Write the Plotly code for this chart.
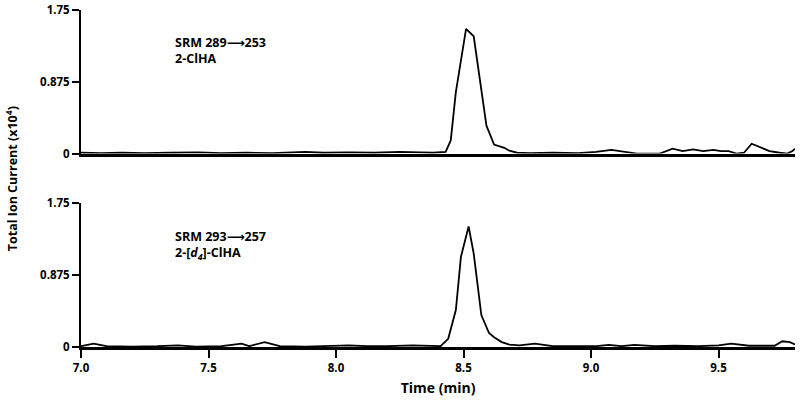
"""SRM chromatograms of 2-ClHA and its d4 internal standard."""

import plotly.graph_objects as go
from plotly.subplots import make_subplots

FONT = "Open Sans"
ARROW = '<span style="font-family:DejaVu Sans">⟶</span>'

# SRM 289->253 (2-ClHA), time in min, current in x10^4
t_top = [7.00, 7.08, 7.16, 7.25, 7.35, 7.46, 7.55, 7.65, 7.75, 7.88, 7.95, 8.05,
         8.15, 8.25, 8.33, 8.38, 8.43, 8.45, 8.47, 8.49, 8.51, 8.54, 8.565, 8.59,
         8.62, 8.66, 8.68, 8.71, 8.76, 8.85, 8.95, 9.02, 9.08, 9.13, 9.18, 9.27,
         9.32, 9.36, 9.40, 9.44, 9.48, 9.51, 9.54, 9.57, 9.60, 9.63, 9.66, 9.70,
         9.74, 9.77, 9.79, 9.80]
i_top = [0.01, 0.005, 0.01, 0.005, 0.01, 0.015, 0.005, 0.01, 0.005, 0.02, 0.01, 0.015,
         0.01, 0.02, 0.015, 0.01, 0.02, 0.16, 0.75, 1.13, 1.52, 1.43, 0.90, 0.34,
         0.11, 0.07, 0.035, 0.01, 0.005, 0.01, 0.005, 0.02, 0.045, 0.02, 0.0, 0.0,
         0.06, 0.03, 0.05, 0.03, 0.045, 0.03, 0.03, 0.0, 0.01, 0.12, 0.08, 0.03,
         0.01, 0.0, 0.03, 0.06]

# SRM 293->257 (2-[d4]-ClHA)
t_bot = [7.00, 7.05, 7.10, 7.20, 7.30, 7.38, 7.45, 7.55, 7.63, 7.66, 7.72, 7.78,
         7.88, 7.95, 8.05, 8.12, 8.20, 8.30, 8.36, 8.41, 8.44, 8.47, 8.49, 8.52,
         8.54, 8.57, 8.60, 8.62, 8.65, 8.68, 8.72, 8.78, 8.85, 8.95, 9.02, 9.07,
         9.12, 9.17, 9.25, 9.33, 9.42, 9.50, 9.55, 9.62, 9.68, 9.72, 9.75, 9.78,
         9.80]
i_bot = [0.01, 0.04, 0.01, 0.005, 0.01, 0.02, 0.005, 0.01, 0.04, 0.01, 0.06, 0.01,
         0.005, 0.01, 0.02, 0.01, 0.01, 0.02, 0.01, 0.01, 0.10, 0.45, 1.10, 1.47,
         1.14, 0.39, 0.17, 0.12, 0.06, 0.03, 0.02, 0.04, 0.01, 0.005, 0.01, 0.025,
         0.01, 0.025, 0.01, 0.015, 0.01, 0.02, 0.04, 0.015, 0.01, 0.015, 0.07, 0.06,
         0.03]

y_ticks = [0, 0.875, 1.75]
y_tick_text = ["0", "0.875", "1.75"]
x_ticks = [7.0, 7.5, 8.0, 8.5, 9.0, 9.5]

labels = [
    (f"SRM 289{ARROW}253<br>2-ClHA", 1),
    (f"SRM 293{ARROW}257<br>2-[<i>d</i><sub><i>4</i></sub>]-ClHA", 2),
]

fig = make_subplots(rows=2, cols=1, shared_xaxes=True, vertical_spacing=0.148)

for row, (t, i) in enumerate([(t_top, i_top), (t_bot, i_bot)], start=1):
    fig.add_trace(go.Scatter(
        x=t, y=i, mode="lines", showlegend=False,
        line=dict(color="black", width=1.8),
    ), row=row, col=1)
    fig.update_yaxes(
        range=[0, 1.75], tickvals=y_ticks, ticktext=y_tick_text,
        showline=True, linecolor="black", linewidth=2, mirror=False,
        ticks="outside", ticklen=7, tickwidth=2, tickcolor="black",
        showgrid=False, zeroline=False, automargin=False,
        row=row, col=1,
    )
    fig.update_xaxes(
        range=[7.0, 9.8], showline=True, linecolor="black", linewidth=3,
        showgrid=False, zeroline=False, automargin=False,
        row=row, col=1,
    )

fig.update_xaxes(showticklabels=False, ticks="", row=1, col=1)
fig.update_xaxes(
    tickvals=x_ticks, ticktext=[f"{v:.1f}" for v in x_ticks],
    ticks="outside", ticklen=8, tickwidth=2, tickcolor="black",
    title=dict(text="Time (min)", standoff=10),
    row=2, col=1,
)

for text, row in labels:
    fig.add_annotation(
        text=text, xref="x" if row == 1 else "x2", yref="y" if row == 1 else "y2",
        x=7.36, y=1.48, xanchor="left", yanchor="top", align="left",
        showarrow=False, font=dict(size=12.5, family=FONT, weight="bold"),
    )

fig.add_annotation(
    text="Total Ion Current (x10<sup>4</sup>)", textangle=-90,
    xref="paper", yref="paper", x=-0.097, y=0.50,
    xanchor="center", yanchor="middle", showarrow=False,
    font=dict(size=12.5, family=FONT, weight="bold"),
)

fig.update_layout(
    width=800, height=408,
    template="simple_white",
    plot_bgcolor="white", paper_bgcolor="white",
    margin=dict(l=81, r=5, t=10, b=61),
    font=dict(family=FONT, size=11.5, color="black", weight="bold"),
)

# drop the browser's default body margin so the figure sits at the page corner
fig.write_html(
    "out.html",
    config={"displayModeBar": False},
    post_script="document.body.style.margin = '0';",
)
